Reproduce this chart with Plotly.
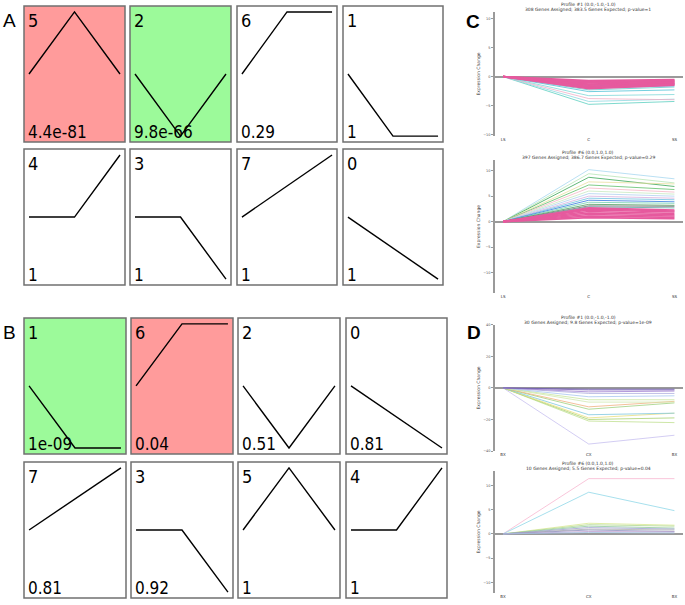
import plotly.graph_objects as go

W, H = 685, 605

# ---------------- data: STEM profile boxes ----------------
time_points = [0, 1, 2]
profile_shapes = {
    0: [0, -0.5, -1],
    1: [0, -1, -1],
    2: [0, -1, 0],
    3: [0, 0, -1],
    4: [0, 0, 1],
    5: [0, 1, 0],
    6: [0, 1, 1],
    7: [0, 0.5, 1],
}
A_ids = [5, 2, 6, 1, 4, 3, 7, 0]
A_pvals = ["4.4e-81", "9.8e-66", "0.29", "1", "1", "1", "1", "1"]
A_sig = ["up", "down", "", "", "", "", "", ""]
B_ids = [1, 6, 2, 0, 7, 3, 5, 4]
B_pvals = ["1e-09", "0.04", "0.51", "0.81", "0.81", "0.92", "1", "1"]
B_sig = ["down", "up", "", "", "", "", "", ""]

# ---------------- data: gene expression profiles ----------------
C_labels = ["LS", "C", "SS"]
D_labels = ["BX", "CX", "BX"]

C1_title = ["Profile #1 (0.0,-1.0,-1.0)", "308 Genes Assigned; 383.5 Genes Expected; p-value=1"]
C1_mid = [-4.8, -4.3, -3.8, -3.3, -2.6, -2.3, -2.0, -1.6,
          -0.7, -0.9, -1.1, -1.3, -1.5, -1.7, -1.9, -2.1, -1.0, -1.4, -1.8]
C1_end = [-4.3, -3.9, -4.0, -3.1, -2.3, -1.8, -1.6, -1.2,
          -0.5, -0.65, -0.8, -0.95, -1.1, -1.25, -1.4, -1.5, -0.7, -1.0, -1.3]
C1_col = ["#5ccfc0", "#8fd8e0", "#f0b0c8", "#7fd8d8", "#4fc3d6", "#66cccc", "#5b9bd5", "#7a7ad0",
          "#e65a9e", "#e65a9e", "#e65a9e", "#e65a9e", "#e65a9e", "#e65a9e", "#e65a9e", "#e65a9e",
          "#e65a9e", "#e65a9e", "#e65a9e"]

C2_title = ["Profile #6 (0.0,1.0,1.0)", "397 Genes Assigned; 386.7 Genes Expected; p-value=0.29"]
C2_mid = [10.2, 9.4, 8.7, 7.8, 7.2, 6.6, 6.0, 5.5, 5.0, 4.6, 4.2, 3.8, 3.4, 3.1, 2.9,
          0.8, 1.1, 1.4, 1.7, 2.0, 2.3, 2.5, 2.7]
C2_end = [8.4, 7.6, 6.9, 7.4, 6.3, 5.8, 5.4, 5.0, 4.6, 4.3, 3.9, 3.6, 3.2, 3.0, 2.7,
          0.6, 0.85, 1.1, 1.35, 1.6, 1.9, 2.1, 2.3]
C2_col = ["#a8d8f0", "#b8e6b8", "#3aa655", "#e8e0a0", "#5fbf6a", "#f5b5c5", "#c8e8c0", "#b0d0f0",
          "#d8b0e0", "#6fc0e0", "#3377dd", "#70d0b0", "#4a9a5a", "#707070", "#5aa0a0",
          "#e65a9e", "#e65a9e", "#e65a9e", "#e65a9e", "#e65a9e", "#e65a9e", "#e65a9e", "#e65a9e"]

D1_title = ["Profile #1 (0.0,-1.0,-1.0)", "30 Genes Assigned; 9.8 Genes Expected; p-value=1e-09"]
D1_mid = [-35.6, -21, -20, -19, -17, -13.5, -12, -9, -7.5, -5.6, -3.5, -2.5, -1.3, -0.8]
D1_end = [-30, -22, -19, -16, -16, -9.5, -8.5, -9, -7.5, -5.0, -3.5, -2.0, -1.3, -0.8]
D1_col = ["#c8c0f0", "#c0e090", "#a8d070", "#e8e080", "#80c8e0", "#a0d080", "#f0b080", "#d0e8b0",
          "#c8e6a0", "#a8c8f0", "#b0b0e0", "#a080d0", "#8a6cc0", "#7060b0"]

D2_title = ["Profile #6 (0.0,1.0,1.0)", "10 Genes Assigned; 5.5 Genes Expected; p-value=0.04"]
D2_mid = [11.4, 8.6, 2.2, 1.9, 1.6, 1.3, 1.0, 0.8, 0.5, 0.3]
D2_end = [11.4, 4.8, 1.8, 1.6, 1.2, 1.0, 0.8, 0.5, 0.4, 0.2]
D2_col = ["#f8b8d0", "#90d8e8", "#d8e890", "#b0d890", "#90c8a0", "#a0a0d0", "#b0b0b0",
          "#9090c0", "#c0a0d0", "#a0c0e0"]

# ---------------- layout geometry (pixels) ----------------
A_cols = [(24, 125), (130, 231), (237, 337), (343, 443)]
A_rows = [(4, 141), (148, 285)]
B_cols = [(24, 126), (131, 233), (238, 340), (346, 447)]
B_rows = [(318, 455), (463, 600)]

def fx(p):
    return p / W

def fy(p):
    return 1 - p / H

fig = go.Figure()
layout = dict(width=W, height=H, margin=dict(l=0, r=0, t=0, b=0),
              paper_bgcolor="white", plot_bgcolor="rgba(0,0,0,0)", showlegend=False)
shapes, annotations = [], []
fill_colors = {"up": "#ff9b9b", "down": "#9cfa9a", "": "white"}
box_font = "DejaVu Sans Condensed, DejaVu Sans"

ax = 0
for ids, pvals, sig, cols, rows in [(A_ids, A_pvals, A_sig, A_cols, A_rows),
                                     (B_ids, B_pvals, B_sig, B_cols, B_rows)]:
    for i, pid in enumerate(ids):
        ax += 1
        x0, x1 = cols[i % 4]
        y0, y1 = rows[i // 4]
        xa = "xaxis" if ax == 1 else f"xaxis{ax}"
        ya = "yaxis" if ax == 1 else f"yaxis{ax}"
        xr = "x" if ax == 1 else f"x{ax}"
        yr = "y" if ax == 1 else f"y{ax}"
        layout[xa] = dict(domain=[fx(x0), fx(x1)], range=[-0.11, 2.11], visible=False,
                          anchor=yr, fixedrange=True)
        layout[ya] = dict(domain=[fy(y1), fy(y0)], range=[-1.096, 1.096], visible=False,
                          anchor=xr, fixedrange=True)
        shapes.append(dict(type="rect", xref=f"{xr} domain", yref=f"{yr} domain",
                           x0=0, x1=1, y0=0, y1=1, fillcolor=fill_colors[sig[i]],
                           line=dict(color="#707070", width=1.5), layer="below"))
        fig.add_trace(go.Scatter(x=time_points, y=profile_shapes[pid], mode="lines",
                                 line=dict(color="black", width=1.4), xaxis=xr, yaxis=yr,
                                 hoverinfo="skip"))
        annotations.append(dict(text=str(pid), xref=f"{xr} domain", yref=f"{yr} domain",
                                x=0.02, y=1.0, xanchor="left", yanchor="top", showarrow=False,
                                yshift=-2,
                                font=dict(family=box_font, size=18, color="black")))
        annotations.append(dict(text=pvals[i], xref=f"{xr} domain", yref=f"{yr} domain",
                                x=0.02, y=0.0, xanchor="left", yanchor="bottom", showarrow=False,
                                yshift=-2,
                                font=dict(family=box_font, size=17, color="black")))

# ---------------- right-hand profile plots ----------------
right = [
    (C_labels, C1_title, C1_mid, C1_end, C1_col, (10, 135), [-10.3, 11.2], [-10, -5, 0, 5, 10]),
    (C_labels, C2_title, C2_mid, C2_end, C2_col, (159, 293), [-14, 12.1], [-10, -5, 0, 5, 10]),
    (D_labels, D1_title, D1_mid, D1_end, D1_col, (325, 452), [-40, 40], [-40, -20, 0, 20, 40]),
    (D_labels, D2_title, D2_mid, D2_end, D2_col, (472, 595), [-12.2, 13], [-10, -5, 0, 5, 10]),
]
for labels, title, mids, ends, colrs, (py0, py1), yrng, ticks in right:
    ax += 1
    xa, ya = f"xaxis{ax}", f"yaxis{ax}"
    xr, yr = f"x{ax}", f"y{ax}"
    layout[xa] = dict(domain=[fx(495), fx(683)], range=[-0.094, 2.1], anchor=yr,
                      tickvals=[0, 1, 2], ticktext=labels, showgrid=False, zeroline=False,
                      showline=False, ticks="", tickfont=dict(size=4, color="#333",
                      family="DejaVu Sans"), fixedrange=True)
    layout[ya] = dict(domain=[fy(py1), fy(py0)], range=yrng, anchor=xr, tickvals=ticks,
                      showgrid=False, zeroline=True, zerolinecolor="#9a9a9a", zerolinewidth=1.5,
                      showline=True, linecolor="#9a9a9a", linewidth=1.5, ticks="outside",
                      ticklen=2, tickcolor="#9a9a9a",
                      tickfont=dict(size=3.5, color="#555", family="DejaVu Sans"),
                      title=dict(text="Expression Change", standoff=3,
                                 font=dict(size=4.5, color="#444", family="DejaVu Sans")),
                      fixedrange=True)
    for m, e, c in zip(mids, ends, colrs):
        fig.add_trace(go.Scatter(x=time_points, y=[0, m, e], mode="lines",
                                 line=dict(color=c, width=1.6 if c == "#e65a9e" else 0.8),
                                 xaxis=xr, yaxis=yr, hoverinfo="skip"))
    for k, t in enumerate(title):
        annotations.append(dict(text=t, xref="paper", yref="paper", x=fx(588),
                                y=fy(py0 - 7 + 5 * k), xanchor="center", yanchor="middle",
                                showarrow=False,
                                font=dict(size=4.5, color="#333", family="DejaVu Sans")))

# ---------------- panel letters ----------------
for letter, px, py, bold in [("A", 9, 19, False), ("B", 9, 333, False),
                             ("C", 473, 20, True), ("D", 474, 333, True)]:
    annotations.append(dict(text=f"<b>{letter}</b>" if bold else letter, xref="paper",
                            yref="paper", x=fx(px), y=fy(py), xanchor="center",
                            yanchor="middle", showarrow=False,
                            font=dict(size=19, color="black", family="Liberation Sans")))

layout["shapes"] = shapes
layout["annotations"] = annotations
fig.update_layout(**layout)
fig.write_html("out.html", config={"displayModeBar": False},
               post_script="document.body.style.margin='0px';document.body.style.padding='0px';"
                           "document.body.style.overflow='hidden';")
